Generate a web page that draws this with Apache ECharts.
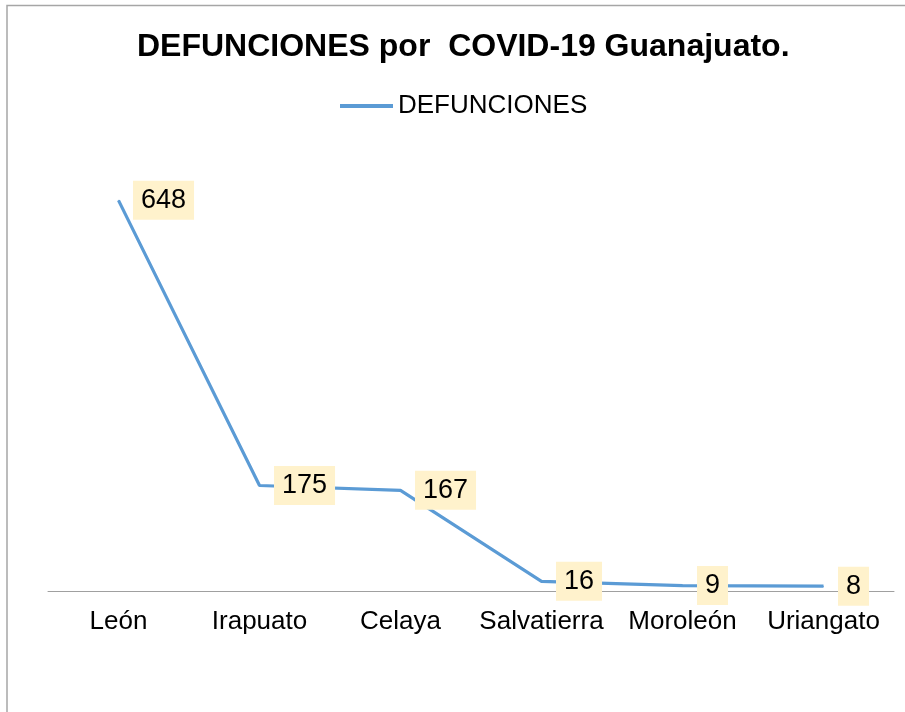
<!DOCTYPE html>
<html>
<head>
<meta charset="utf-8">
<script src="https://cdn.jsdelivr.net/npm/echarts@6/dist/echarts.min.js"></script>
<style>
  html, body { margin: 0; padding: 0; background: #fff; }
  #main { width: 905px; height: 712px; }
</style>
</head>
<body>
<div id="main"></div>
<script>
// datos
var municipios = ['León', 'Irapuato', 'Celaya', 'Salvatierra', 'Moroleón', 'Uriangato'];
var defunciones = [648, 175, 167, 16, 9, 8];

var myChart = echarts.init(document.getElementById('main'));

option = {
  backgroundColor: '#fff',
  textStyle: { fontFamily: 'Arial, "Liberation Sans", sans-serif' },
  graphic: [{
    type: 'rect',
    shape: { x: 7, y: 5.5, width: 1000, height: 1000 },
    style: { fill: 'none', stroke: '#a6a6a6', lineWidth: 1.5 },
    silent: true
  }],
  title: {
    text: 'DEFUNCIONES por  COVID-19 Guanajuato.',
    left: 137,
    top: 31,
    padding: 0,
    textStyle: { fontSize: 32, fontWeight: 'bold', color: '#000', fontFamily: 'Arial, "Liberation Sans", sans-serif' }
  },
  legend: {
    data: ['DEFUNCIONES'],
    top: 93,
    left: 340,
    padding: 0,
    icon: 'rect',
    itemWidth: 53,
    itemHeight: 4,
    textStyle: { fontSize: 26, color: '#000', fontFamily: 'Arial, "Liberation Sans", sans-serif' }
  },
  grid: {
    left: 48,
    right: 11,
    top: 169,
    bottom: 121,
    containLabel: false
  },
  xAxis: {
    type: 'category',
    data: municipios,
    boundaryGap: true,
    axisLine: { lineStyle: { color: '#a0a0a0', width: 1 } },
    axisTick: { show: false },
    axisLabel: { fontSize: 26, color: '#000', margin: 18, interval: 0 }
  },
  yAxis: {
    type: 'value',
    min: 0,
    max: 700,
    show: false,
    splitLine: { show: false }
  },
  series: [{
    name: 'DEFUNCIONES',
    type: 'line',
    data: defunciones,
    showSymbol: true,
    symbol: 'circle',
    symbolSize: 1,
    color: '#5B9BD5',
    lineStyle: { width: 3.2, color: '#5B9BD5' },
    label: {
      show: true,
      position: 'right',
      distance: 14,
      fontSize: 27,
      color: '#000',
      backgroundColor: '#FFF2CC',
      padding: [6, 8, 6, 8]
    }
  }]
};

myChart.setOption(option);
</script>
</body>
</html>
